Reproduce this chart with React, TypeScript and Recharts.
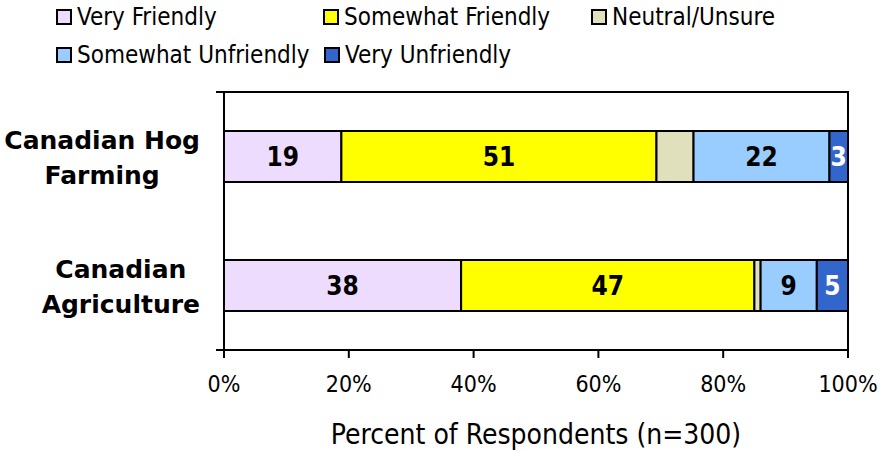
import React from 'react';
import { BarChart, Bar, XAxis, YAxis, LabelList, ReferenceArea } from 'recharts';

const categories = ['Canadian Hog Farming', 'Canadian Agriculture'];
const categoryLines = [
  ['Canadian Hog', 'Farming'],
  ['Canadian', 'Agriculture'],
];
const seriesNames = ['Very Friendly', 'Somewhat Friendly', 'Neutral/Unsure', 'Somewhat Unfriendly', 'Very Unfriendly'];
const veryFriendly = [19, 38];
const somewhatFriendly = [51, 47];
const neutralUnsure = [6, 1];
const somewhatUnfriendly = [22, 9];
const veryUnfriendly = [3, 5];
const xTicks = [0, 0.2, 0.4, 0.6, 0.8, 1];
const axisTitle = 'Percent of Respondents (n=300)';

const KEYS = ['vf', 'sf', 'nu', 'su', 'vu'];
const COLORS = ['#EEDCFE', '#FFFF00', '#E0E0BC', '#99CCFF', '#3366CC'];
const LABEL_COLORS = ['#000', '#000', null, '#000', '#fff'];

// legend item positions (two rows like the original)
const LEGEND_POS = [
  { left: 56, top: 0 },
  { left: 323, top: 0 },
  { left: 591, top: 0 },
  { left: 56, top: 38 },
  { left: 324, top: 38 },
];

const data = categories.map((name, i) => ({
  name,
  vf: veryFriendly[i],
  sf: somewhatFriendly[i],
  nu: neutralUnsure[i],
  su: somewhatUnfriendly[i],
  vu: veryUnfriendly[i],
}));

const COND = '"DejaVu Sans Condensed", "DejaVu Sans", sans-serif';
const BOLD = '"DejaVu Sans", sans-serif';

let canvas: HTMLCanvasElement | null = null;
const measure = (text: string, font: string) => {
  if (!canvas) canvas = document.createElement('canvas');
  const ctx = canvas.getContext('2d')!;
  ctx.font = font;
  return ctx.measureText(text).width;
};

const CategoryTick = (props: any) => {
  const { x, y, index } = props;
  const lines = categoryLines[index] || [];
  const widths = lines.map((l) => measure(l, 'bold 25px "DejaVu Sans"'));
  const blockW = Math.max(...widths);
  const right = 200;
  const cx = Math.min(right, x) - blockW / 2;
  return (
    <g>
      {lines.map((l, i) => (
        <text
          key={l}
          x={cx}
          y={y + (i === 0 ? -16 : 19)}
          textAnchor="middle"
          dominantBaseline="central"
          fontFamily={BOLD}
          fontWeight="bold"
          fontSize={25}
          fill="#000"
        >
          {l}
        </text>
      ))}
    </g>
  );
};

const LegendBox = () => (
  <div style={{ position: 'absolute', left: 0, top: 0, width: 881, height: 80 }}>
    {seriesNames.map((n, i) => (
      <div
        key={n}
        style={{
          position: 'absolute',
          left: LEGEND_POS[i].left,
          top: LEGEND_POS[i].top,
          height: 34,
          display: 'flex',
          alignItems: 'center',
          fontFamily: COND,
          fontSize: 24,
          color: '#000',
          whiteSpace: 'nowrap',
        }}
      >
        <span
          style={{
            display: 'inline-block',
            width: 12,
            height: 12,
            border: '2px solid #000',
            background: COLORS[i],
            marginRight: 5,
          }}
        />
        {n}
      </div>
    ))}
  </div>
);

export default function App() {
  return (
    <div style={{ position: 'absolute', left: 0, top: 0, width: 881, height: 452, background: '#fff' }}>
      <BarChart
        width={881}
        height={452}
        data={data}
        layout="vertical"
        stackOffset="expand"
        barSize={51}
        margin={{ top: 92, right: 33, bottom: 0, left: 0 }}
      >
        <YAxis
          yAxisId="band"
          type="number"
          domain={[0, 2]}
          ticks={[0, 1, 2]}
          width={9}
          tickFormatter={() => ''}
          axisLine={{ stroke: '#000', strokeWidth: 2 }}
          tickLine={{ stroke: '#000', strokeWidth: 2 }}
          tickSize={8}
        />
        <YAxis
          yAxisId="cat"
          type="category"
          dataKey="name"
          width={215}
          axisLine={false}
          tickLine={false}
          tick={<CategoryTick />}
        />
        <XAxis
          type="number"
          domain={[0, 1]}
          ticks={xTicks}
          height={102}
          tickFormatter={(v: number) => `${Math.round(v * 100)}%`}
          axisLine={{ stroke: '#000', strokeWidth: 2 }}
          tickLine={{ stroke: '#000', strokeWidth: 2 }}
          tickSize={8}
          tickMargin={18}
          tick={{ fill: '#000', fontSize: 23, fontFamily: COND }}
          label={{
            value: axisTitle,
            position: 'insideBottom',
            offset: 8,
            fill: '#000',
            fontSize: 28,
            fontFamily: COND,
          }}
        />
        {KEYS.map((k, i) => (
          <Bar
            key={k}
            dataKey={k}
            name={seriesNames[i]}
            stackId="a"
            yAxisId="cat"
            fill={COLORS[i]}
            stroke="#000"
            strokeWidth={2}
            isAnimationActive={false}
          >
            {LABEL_COLORS[i] && (
              <LabelList
                dataKey={k}
                position="center"
                fill={LABEL_COLORS[i] as string}
                fontSize={26}
                fontWeight="bold"
                fontFamily={COND}
              />
            )}
          </Bar>
        ))}
        <ReferenceArea
          yAxisId="cat"
          x1={0}
          x2={1}
          fill="none"
          fillOpacity={0}
          stroke="#000"
          strokeWidth={2}
          ifOverflow="visible"
        />
      </BarChart>
      <LegendBox />
    </div>
  );
}
